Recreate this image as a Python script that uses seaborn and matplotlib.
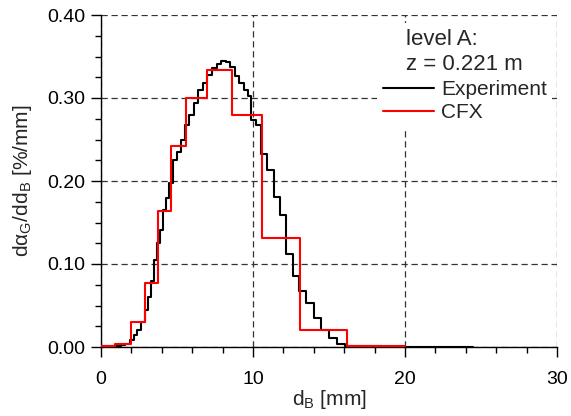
import matplotlib
matplotlib.use("Agg")
import matplotlib.pyplot as plt
import numpy as np
import pandas as pd
import seaborn as sns
from matplotlib.ticker import MultipleLocator, FormatStrFormatter
from matplotlib.lines import Line2D

# ---- data (bubble size distribution, level A) ----
exp_edges = [0.0, 0.5, 1.0, 1.3, 1.6, 1.9, 2.15, 2.4, 2.65, 2.9, 3.1, 3.3, 3.5, 3.7,
             3.9, 4.1, 4.3, 4.5, 4.75, 5.0, 5.25, 5.5, 5.8, 6.1, 6.4, 6.7, 7.0, 7.3,
             7.6, 7.9, 8.2, 8.5, 8.8, 9.1, 9.4, 9.7, 9.9, 10.2, 10.55, 10.9, 11.35,
             11.8, 12.15, 12.6, 13.05, 13.5, 14.0, 14.5, 15.0, 15.5, 16.05, 16.6,
             17.2, 17.8, 18.5, 19.2, 20.0, 21.0, 22.0, 23.0, 24.5]
exp_vals = [0.0008, 0.001, 0.0015, 0.0025, 0.004, 0.008, 0.014, 0.021, 0.030, 0.045,
            0.060, 0.080, 0.105, 0.125, 0.141, 0.165, 0.180, 0.197, 0.225, 0.235,
            0.250, 0.268, 0.280, 0.294, 0.310, 0.318, 0.328, 0.336, 0.341, 0.3445,
            0.343, 0.337, 0.326, 0.318, 0.310, 0.302, 0.2735, 0.268, 0.2325, 0.213,
            0.181, 0.159, 0.112, 0.085, 0.0675, 0.053, 0.035, 0.021, 0.0105, 0.0035,
            0.0018, 0.0012, 0.001, 0.0008, 0.0006, 0.0005, 0.0004, 0.0003, 0.0003,
            0.0002]

cfx_edges = [0.0, 0.92, 1.97, 2.89, 3.73, 4.61, 5.6, 6.95, 8.6, 10.62, 13.12, 16.18, 20.0]
cfx_vals = [0.0016, 0.0033, 0.030, 0.0775, 0.164, 0.242, 0.300, 0.334, 0.280,
            0.1317, 0.0205, 0.0012]

series_names = ["Experiment", "CFX"]
legend_title = "level A:\nz = 0.221 m"


def step_frame(edges, vals, name):
    return pd.DataFrame({"d": edges, "v": list(vals) + [vals[-1]], "series": name})


df = pd.concat([step_frame(exp_edges, exp_vals, series_names[0]),
                step_frame(cfx_edges, cfx_vals, series_names[1])],
               ignore_index=True)

sns.set_style("ticks")
plt.rcParams["font.family"] = ["Liberation Sans", "DejaVu Sans"]
plt.rcParams["mathtext.fontset"] = "custom"
plt.rcParams["mathtext.rm"] = "Liberation Sans"

fig = plt.figure(figsize=(5.71, 4.16), dpi=100)
ax = fig.add_axes([101 / 571, 1 - 347 / 416, 456 / 571, 332 / 416])

palette = {"Experiment": "#000000", "CFX": "#ff0000"}
sns.lineplot(data=df, x="d", y="v", hue="series", palette=palette,
             hue_order=series_names, drawstyle="steps-post", estimator=None,
             sort=False, linewidth=1.5, ax=ax, legend=False, zorder=3)

ax.set_xlim(0, 30)
ax.set_ylim(0, 0.40)
ax.xaxis.set_major_locator(MultipleLocator(10))
ax.xaxis.set_minor_locator(MultipleLocator(2))
ax.yaxis.set_major_locator(MultipleLocator(0.1))
ax.yaxis.set_minor_locator(MultipleLocator(0.025))
ax.yaxis.set_major_formatter(FormatStrFormatter("%.2f"))

ax.grid(True, which="major", linestyle=(0, (5, 3)), color="#333333", linewidth=0.9)
ax.set_axisbelow(True)

for s in ["top", "right"]:
    ax.spines[s].set_visible(False)
for s in ["left", "bottom"]:
    ax.spines[s].set_color("black")
    ax.spines[s].set_linewidth(1.0)

ax.tick_params(which="major", direction="out", length=7, width=1, labelsize=14,
               colors="black")
ax.tick_params(axis="x", which="major", pad=10)
ax.tick_params(axis="y", which="major", pad=4)
ax.tick_params(which="minor", direction="out", length=4, width=1, colors="black")

ax.set_xlabel(r"d$_\mathregular{B}$ [mm]", fontsize=15, labelpad=0)
ax.set_ylabel(r"dα$_\mathregular{G}$/dd$_\mathregular{B}$ [%/mm]", fontsize=15,
              labelpad=10)

handles = [Line2D([], [], color=palette[n], linewidth=1.5) for n in series_names]
leg = ax.legend(handles, series_names, title=legend_title, loc="upper right",
                bbox_to_anchor=(0.989, 0.975), borderaxespad=0, frameon=True,
                fancybox=False, framealpha=1, facecolor="white",
                edgecolor="none", fontsize=15, title_fontsize=16,
                handlelength=2.45, handletextpad=0.35, borderpad=0.25,
                labelspacing=0.22)
leg.get_title().set_multialignment("left")
leg.get_title().set_linespacing(1.3)
leg.set_zorder(5)

fig.savefig("out.png", dpi=100)
